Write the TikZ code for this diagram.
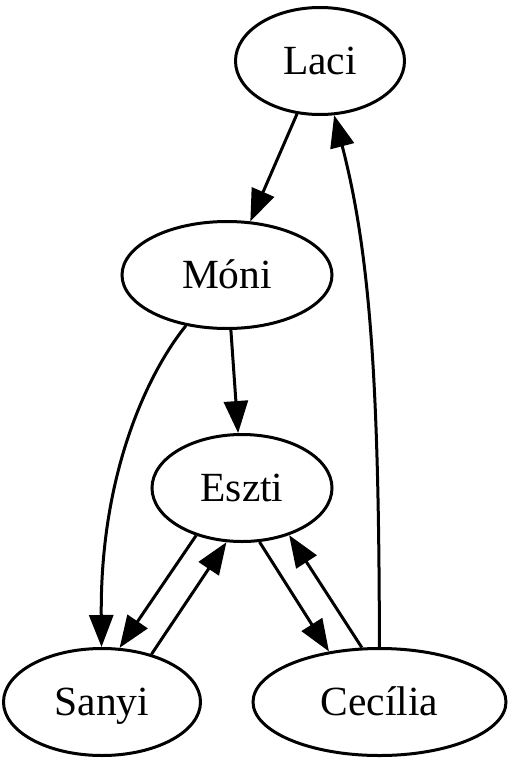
\documentclass[tikz,border=0pt]{standalone}
\usepackage{fontspec}
\setmainfont{Liberation Serif}
\usetikzlibrary{shapes.geometric,arrows.meta}
\tikzset{
  person/.style={ellipse, draw=black, line width=3pt, inner sep=0pt,
    minimum height=107pt, text height=27pt, text depth=0pt,
    font=\fontsize{41.5}{48}\selectfont},
  edge/.style={draw=black, line width=3pt,
    -{Triangle[length=32pt,width=24pt]}}
}
\begin{document}
\begin{tikzpicture}[x=1pt,y=-1pt]
\fill[white] (0,0) rectangle (512,769);
\useasboundingbox (0,0) rectangle (512,769);
\node[person, minimum width=169pt] (laci) at (320,61) {Laci};
\node[person, minimum width=210pt] (moni) at (227,275) {Móni};
\node[person, minimum width=180pt] (esz)  at (242,488) {Eszti};
\node[person, minimum width=197pt] (san)  at (102,702) {Sanyi};
\node[person, minimum width=253pt] (cec)  at (379.5,702) {Cecília};

\draw[edge] (laci) -- (moni);
\draw[edge] (moni) -- (esz);
\draw[edge] (moni) .. controls (150,370) and (100,470) .. (san);
\draw[edge] (esz.-134) -- (san.72);
\draw[edge] (san.44) -- (esz.-106);
\draw[edge] (esz.-72) -- (cec.135);
\draw[edge] (cec.108) -- (esz.-45);
\draw[edge] (cec) .. controls (379,400) and (372,260) .. (laci);
\end{tikzpicture}
\end{document}
